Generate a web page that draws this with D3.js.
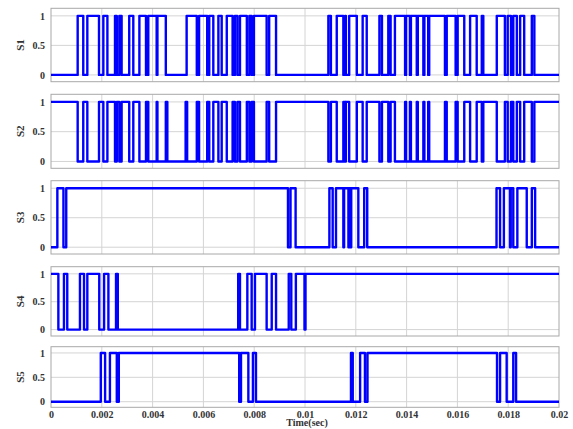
<!DOCTYPE html>
<html>
<head>
<meta charset="utf-8">
<script src="https://cdn.jsdelivr.net/npm/d3@7"></script>
<style>
body{margin:0;background:#fff;}
text{font-family:"Liberation Serif","Times New Roman",serif;font-weight:bold;fill:#333;}
</style>
</head>
<body>
<script>
// signal names and start levels
var names = ["S1","S2","S3","S4","S5"];
var startLevel = [0,1,0,1,0];

// switching instants (sec), level toggles at each one
var s1Edges = [0.00105,0.00127,0.00143,0.00189,0.00206,0.00222,0.00252,0.00259,0.00269,0.00278,
  0.00308,0.00324,0.00348,0.00374,0.00383,0.00416,0.00419,0.00452,
  0.00534,0.00574,0.00583,0.00615,0.00623,0.00639,0.00659,0.00672,0.00692,0.00715,0.00724,0.00734,
  0.00744,0.00771,0.00781,0.0079,0.00799,0.00849,0.00859,0.00886,
  0.01092,0.01102,0.01125,0.01151,0.01158,0.01161,0.01174,0.01204,0.01227,0.01243,0.01293,0.01303,
  0.01328,0.01337,0.01354,0.01394,0.01398,0.01413,0.01417,0.0144,0.01444,0.01466,0.0147,0.01485,
  0.01489,0.01551,0.01558,0.01593,0.01601,0.01627,0.0165,0.01676,0.01696,0.01702,0.01755,0.01787,
  0.01798,0.01811,0.0182,0.01834,0.01847,0.01863,0.01893,0.01903];
var s2Edges = [0.00105,0.00127,0.00143,0.00189,0.00206,0.00222,0.00252,0.00259,0.00269,0.00278,
  0.00308,0.00324,0.00348,0.00374,0.00383,0.00416,0.00419,0.00452,0.00458,
  0.0053,0.00536,0.00574,0.00583,0.00615,0.00623,0.00639,0.00659,0.00672,0.00692,0.00715,0.00724,
  0.00734,0.00744,0.00771,0.00781,0.0079,0.00799,0.00849,0.00859,0.00886,
  0.01092,0.01102,0.01125,0.01151,0.01158,0.01161,0.01174,0.01204,0.01227,0.01243,0.01293,0.01303,
  0.01328,0.01337,0.01354,0.01394,0.01398,0.01413,0.01417,0.0144,0.01444,0.01466,0.0147,0.01485,
  0.01489,0.01551,0.01558,0.01593,0.01601,0.01627,0.0165,0.01676,0.01696,0.01702,0.01755,0.01787,
  0.01798,0.01811,0.0182,0.01834,0.01847,0.01863,0.01893,0.01903];
var s3Edges = [0.00025,0.00049,0.0006,0.00933,0.00943,0.00963,
  0.01096,0.01109,0.01122,0.01151,0.01154,0.01171,0.01173,0.0118,0.01182,0.0121,0.01233,0.01245,
  0.01754,0.01768,0.01783,0.01807,0.0181,0.0182,0.01836,0.01873,0.01893,0.01906];
var s4Edges = [0.00029,0.00051,0.00064,0.00114,0.0013,0.00143,0.0019,0.00209,0.00226,0.00256,0.00263,
  0.00737,0.00744,0.00773,0.0079,0.00803,0.00849,0.00869,0.00886,
  0.00936,0.00946,0.00964,0.00998,0.01002];
var s5Edges = [0.00196,0.00213,0.00232,0.00259,0.00267,0.00741,0.00748,0.00777,0.00795,0.00807,
  0.01181,0.01188,0.01217,0.01236,0.01246,0.01756,0.01768,0.01794,0.0182,0.01831];
var allEdges = [s1Edges,s2Edges,s3Edges,s4Edges,s5Edges];

var xTicks = [0,0.002,0.004,0.006,0.008,0.01,0.012,0.014,0.016,0.018,0.02];
var xTickLabels = ["0","0.002","0.004","0.006","0.008","0.01","0.012","0.014","0.016","0.018","0.02"];
var yTicks = [0,0.5,1];

// layout
var W=573,H=429;
var left=51,right=559;
var panelTop=[8.3,94.3,180.7,266.7,346.7];
var panelBot=[81.7,168.3,254,336,407.3];

var svg=d3.select("body").append("svg").attr("width",W).attr("height",H);

var x=d3.scaleLinear().domain([0,0.02]).range([left,right]);

var line=d3.line()
  .x(function(d){return x(d[0]);})
  .y(function(d){return d[2](d[1]);})
  .curve(d3.curveStepAfter);

names.forEach(function(name,k){
  var y=d3.scaleLinear().domain([-0.115,1.128]).range([panelBot[k],panelTop[k]]);
  var g=svg.append("g");

  // gridlines
  g.selectAll(".gx").data(xTicks.slice(1,-1)).enter().append("line")
    .attr("x1",function(d){return x(d);}).attr("x2",function(d){return x(d);})
    .attr("y1",panelTop[k]).attr("y2",panelBot[k])
    .attr("stroke","#d4d4d4").attr("stroke-width",1);
  g.selectAll(".gy").data(yTicks).enter().append("line")
    .attr("x1",left).attr("x2",right)
    .attr("y1",function(d){return y(d);}).attr("y2",function(d){return y(d);})
    .attr("stroke","#d4d4d4").attr("stroke-width",1);

  // border
  g.append("rect").attr("x",left).attr("y",panelTop[k])
    .attr("width",right-left).attr("height",panelBot[k]-panelTop[k])
    .attr("fill","none").attr("stroke","#a8a8a8").attr("stroke-width",1);

  // y axis labels
  var ya=d3.axisLeft(y).tickValues(yTicks).tickSize(0).tickPadding(6)
    .tickFormat(function(d){return d===0.5?"0.5":d3.format("d")(d);});
  var ag=svg.append("g").attr("transform","translate("+left+",0)").call(ya);
  ag.select(".domain").remove();
  ag.selectAll("text").style("font-size","10px").attr("fill","#333");

  svg.append("text")
    .attr("transform","translate(24,"+((panelTop[k]+panelBot[k])/2)+") rotate(-90)")
    .attr("text-anchor","middle").style("font-size","11px").text(name);

  // signal
  var pts=[], lvl=startLevel[k];
  pts.push([0,lvl,y]);
  allEdges[k].forEach(function(t){lvl=1-lvl;pts.push([t,lvl,y]);});
  pts.push([0.02,lvl,y]);

  svg.append("clipPath").attr("id","c"+k).append("rect")
    .attr("x",left).attr("y",panelTop[k]).attr("width",right-left).attr("height",panelBot[k]-panelTop[k]);
  svg.append("path").datum(pts)
    .attr("clip-path","url(#c"+k+")")
    .attr("d",line).attr("fill","none")
    .attr("stroke","#0000ff").attr("stroke-width",2.4)
    .attr("stroke-linejoin","round");
});

// x axis
var xa=d3.axisBottom(x).tickValues(xTicks).tickSize(0).tickPadding(4)
  .tickFormat(function(d,i){return xTickLabels[i];});
var xg=svg.append("g").attr("transform","translate(0,"+panelBot[4]+")").call(xa);
xg.select(".domain").remove();
xg.selectAll("text").style("font-size","10px").attr("fill","#333");

svg.append("text").attr("x",307).attr("y",426.3).attr("text-anchor","middle")
  .style("font-size","10px").text("Time(sec)");
</script>
</body>
</html>
